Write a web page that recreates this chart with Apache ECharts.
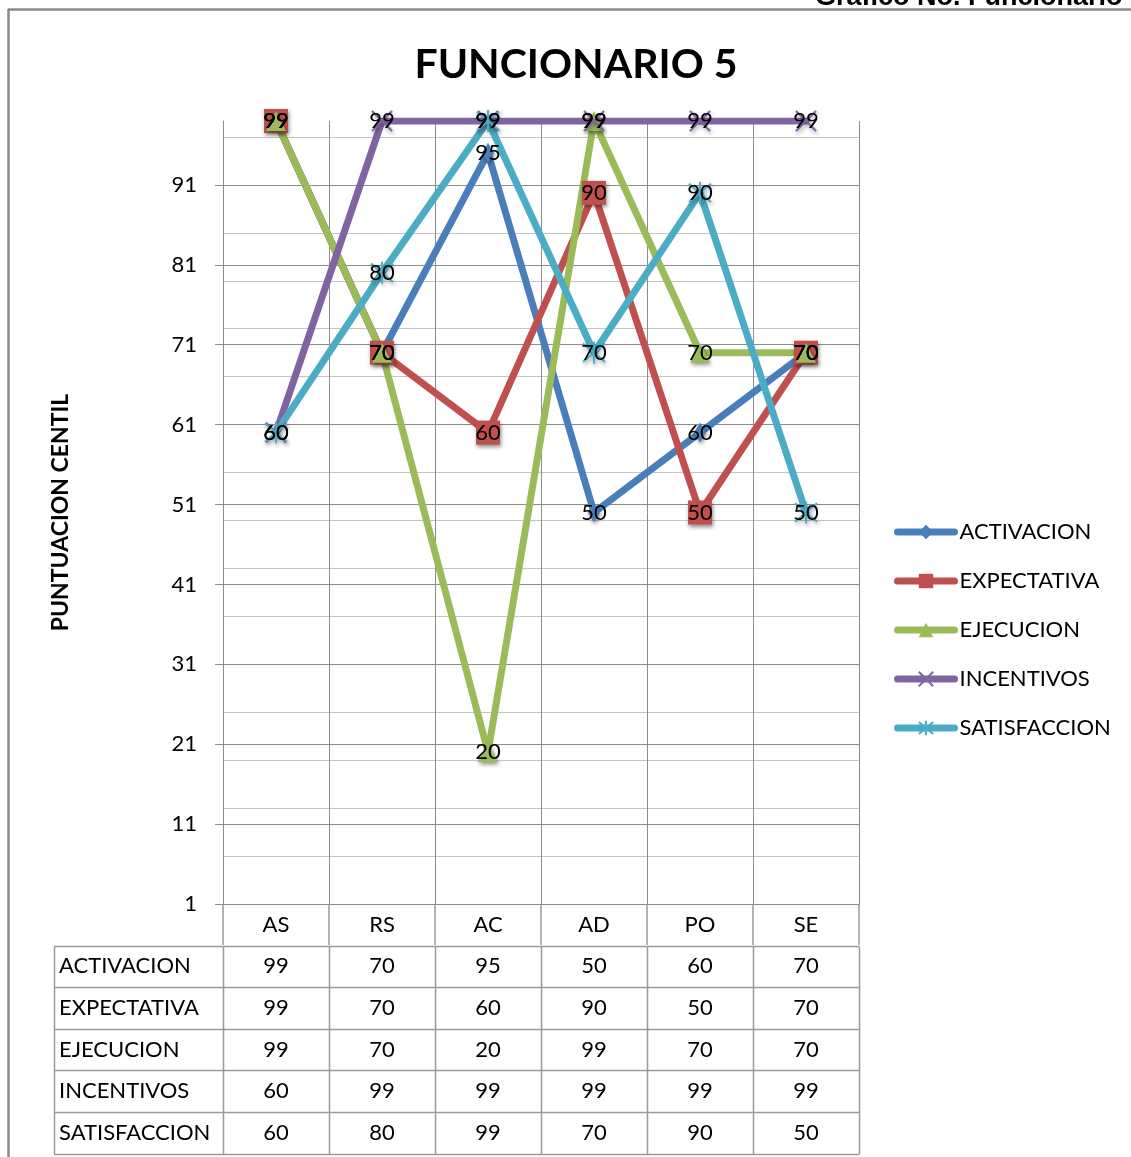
<!DOCTYPE html>
<html>
<head>
<meta charset="utf-8">
<script src="https://cdn.jsdelivr.net/npm/echarts@6/dist/echarts.min.js"></script>
<style>
  html, body { margin: 0; padding: 0; background: #fff; }
  #chart { width: 1131px; height: 1157px; }
</style>
</head>
<body>
<div id="chart"></div>
<script>
// Categories (dimensions) and centile scores per factor
const categories = ['AS', 'RS', 'AC', 'AD', 'PO', 'SE'];
const activacion = [99, 70, 95, 50, 60, 70];
const expectativa = [99, 70, 60, 90, 50, 70];
const ejecucion = [99, 70, 20, 99, 70, 70];
const incentivos = [60, 99, 99, 99, 99, 99];
const satisfaccion = [60, 80, 99, 70, 90, 50];
const seriesNames = ['ACTIVACION', 'EXPECTATIVA', 'EJECUCION', 'INCENTIVOS', 'SATISFACCION'];

// Value axis: labelled ticks every 10 from 1, fine grid every 6 from 1
const yMin = 1, yMax = 99, yStep = 10, yMinorStep = 6;

const FONT = 'Lato';
const GRID_MAJOR = '#8c8c8c';
const GRID_MINOR = '#c4c4c4';
const TABLE_LINE = '#9a9a9a';

const seriesValues = [activacion, expectativa, ejecucion, incentivos, satisfaccion];
const seriesColors = ['#4a7ebb', '#c0504d', '#9bbb59', '#8064a2', '#4bacc6'];
const seriesSymbols = [
  { symbol: 'diamond', size: [12, 20], stroke: 0 },
  { symbol: 'rect', size: 24, stroke: 0 },
  { symbol: 'triangle', size: 20, stroke: 0 },
  { symbol: 'path://M0,0L20,20M20,0L0,20', size: 20, stroke: 2 },
  { symbol: 'path://M0,0L20,20M20,0L0,20M10,-2L10,22', size: 22, stroke: 2 }
];

const chart = echarts.init(document.getElementById('chart'), null, { renderer: 'canvas' });

const series = seriesNames.map((name, i) => ({
  name: name,
  type: 'line',
  data: seriesValues[i],
  yAxisIndex: 0,
  symbol: seriesSymbols[i].symbol,
  symbolSize: seriesSymbols[i].size,
  showAllSymbol: true,
  lineStyle: { color: seriesColors[i], width: 7, cap: 'round', join: 'round' },
  itemStyle: {
    color: seriesColors[i],
    borderColor: seriesColors[i],
    borderWidth: seriesSymbols[i].stroke,
    shadowBlur: 4,
    shadowColor: 'rgba(0,0,0,0.45)',
    shadowOffsetX: 1,
    shadowOffsetY: 2
  },
  label: {
    show: true,
    position: 'inside',
    color: '#000',
    fontFamily: FONT,
    fontSize: 22
  },
  emphasis: { disabled: true },
  animation: false
}));

chart.setOption({
  animation: false,
  backgroundColor: '#fff',
  title: {
    text: 'FUNCIONARIO 5',
    left: 571,
    top: 39,
    textAlign: 'center',
    textStyle: { fontFamily: FONT, fontWeight: 'bold', fontSize: 41, color: '#000' }
  },
  legend: {
    orient: 'vertical',
    left: 894,
    top: 521,
    padding: 0,
    itemWidth: 57,
    itemHeight: 18,
    itemGap: 27,
    data: seriesNames,
    lineStyle: { width: 7 },
    itemStyle: { shadowBlur: 0, shadowOffsetX: 0, shadowOffsetY: 0 },
    textStyle: { fontFamily: FONT, fontSize: 22, color: '#000' }
  },
  grid: { left: 223, right: 272, top: 121, bottom: 253, containLabel: false },
  xAxis: {
    type: 'category',
    data: categories,
    boundaryGap: true,
    axisLine: { show: true, lineStyle: { color: GRID_MAJOR, width: 1 } },
    axisTick: { show: true, length: 41, alignWithLabel: false, lineStyle: { color: TABLE_LINE, width: 1.5 } },
    axisLabel: { margin: 10, fontFamily: FONT, fontSize: 22, color: '#000' },
    splitLine: { show: true, lineStyle: { color: GRID_MAJOR, width: 1 } }
  },
  yAxis: [
    {
      type: 'value',
      min: yMin,
      max: yMax,
      interval: yStep,
      z: 1,
      name: 'PUNTUACION CENTIL',
      nameLocation: 'middle',
      nameGap: 151,
      nameRotate: 90,
      nameTextStyle: { fontFamily: FONT, fontWeight: 'bold', fontSize: 23, color: '#000' },
      axisLine: { show: true, lineStyle: { color: GRID_MAJOR, width: 1 } },
      axisTick: { show: true, length: 8, lineStyle: { color: GRID_MAJOR } },
      axisLabel: { margin: 26, fontFamily: FONT, fontSize: 22, color: '#000', showMaxLabel: false },
      splitLine: { show: true, showMaxLine: false, lineStyle: { color: GRID_MAJOR, width: 1 } }
    },
    {
      type: 'value',
      min: yMin,
      max: yMax,
      interval: yMinorStep,
      z: 0,
      position: 'left',
      axisLine: { show: false },
      axisTick: { show: false },
      axisLabel: { show: false },
      splitLine: { show: true, showMaxLine: false, lineStyle: { color: GRID_MINOR, width: 1 } }
    }
  ],
  series: series
});

// Data table under the plot, aligned on the category bands of the x axis
function buildTable() {
  const centers = categories.map((c, i) => chart.convertToPixel({ xAxisIndex: 0 }, i));
  const band = centers[1] - centers[0];
  const xLeft = centers[0] - band / 2;
  const xRight = centers[centers.length - 1] + band / 2;
  const yBase = chart.convertToPixel({ yAxisIndex: 0 }, yMin);
  const rowH = 41.6;
  const headerBottom = yBase + rowH;
  const labelLeft = 54;
  const els = [];
  const lineStyle = { stroke: TABLE_LINE, lineWidth: 1.5 };

  for (let r = 0; r <= seriesNames.length; r++) {
    const y = Math.round(headerBottom + r * rowH) + 0.5;
    els.push({ type: 'line', shape: { x1: labelLeft, y1: y, x2: xRight, y2: y }, style: lineStyle, silent: true });
  }
  const yEnd = Math.round(headerBottom + seriesNames.length * rowH) + 0.5;
  const yStart = Math.round(headerBottom) + 0.5;
  const verticals = [labelLeft];
  for (let i = 0; i <= categories.length; i++) verticals.push(xLeft + i * band);
  verticals.forEach(x => {
    const xx = Math.round(x) + 0.5;
    els.push({ type: 'line', shape: { x1: xx, y1: yStart, x2: xx, y2: yEnd }, style: lineStyle, silent: true });
  });

  seriesNames.forEach((name, r) => {
    const cy = headerBottom + r * rowH + rowH / 2;
    els.push({
      type: 'text', x: labelLeft + 5, y: cy, silent: true,
      style: { text: name, font: '22px ' + FONT, fill: '#000', align: 'left', verticalAlign: 'middle' }
    });
    seriesValues[r].forEach((v, i) => {
      els.push({
        type: 'text', x: centers[i], y: cy, silent: true,
        style: { text: String(v), font: '22px ' + FONT, fill: '#000', align: 'center', verticalAlign: 'middle' }
      });
    });
  });

  // Outer frame of the chart area
  els.push({ type: 'line', shape: { x1: 8.5, y1: 9, x2: 8.5, y2: 1157 }, style: { stroke: '#8a8a8a', lineWidth: 2.5 }, silent: true });
  els.push({ type: 'line', shape: { x1: 8, y1: 9.5, x2: 1131, y2: 9.5 }, style: { stroke: '#8a8a8a', lineWidth: 2.5 }, silent: true });

  // Page caption above the frame
  els.push({
    type: 'text', x: 815, y: 11, silent: true, z: 10,
    style: { text: 'Gráfico No. Funcionario 5', font: 'bold 27px "Liberation Sans"', fill: '#000', align: 'left', verticalAlign: 'bottom' }
  });

  chart.setOption({ graphic: { elements: els } });
}
buildTable();
</script>
</body>
</html>
